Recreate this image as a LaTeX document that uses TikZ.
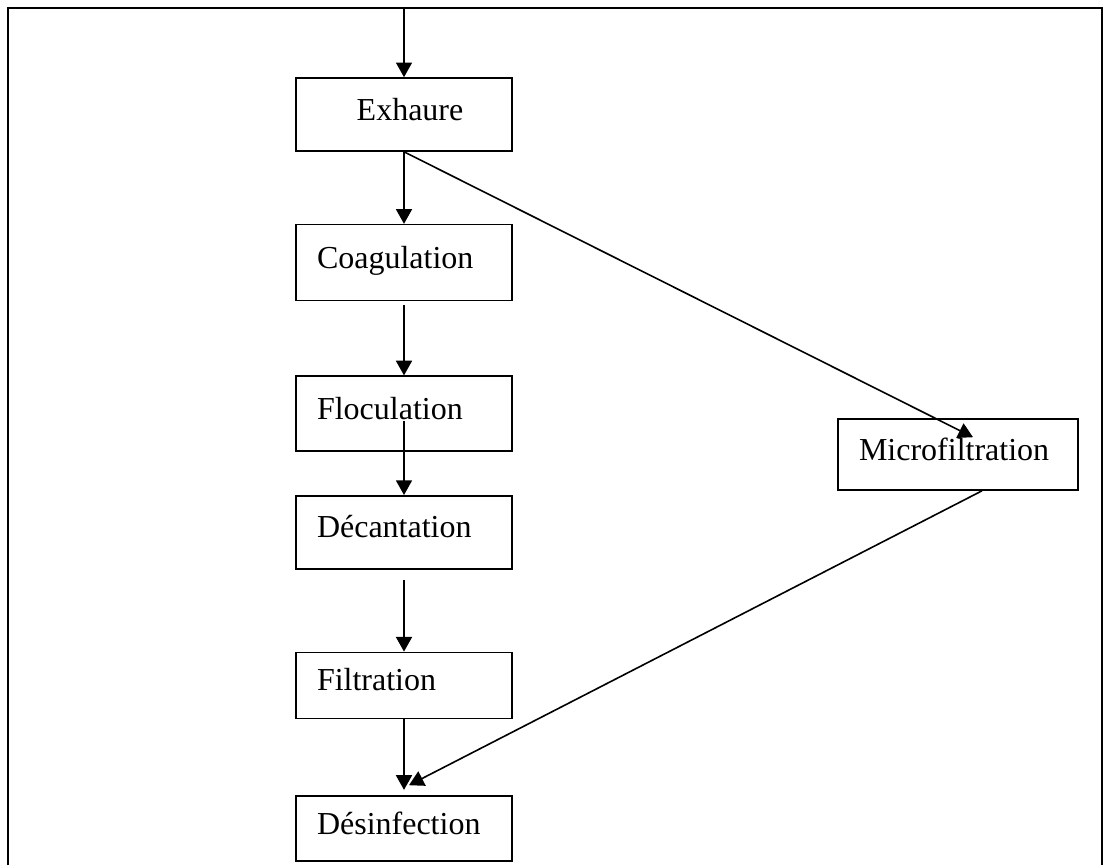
\documentclass[tikz,border=0pt]{standalone}
\usepackage{fontspec}
\setmainfont{Liberation Serif}
\usetikzlibrary{arrows.meta, positioning, calc}

\begin{document}
\begin{tikzpicture}[
	x=0.75pt, y=-0.75pt,
	stepbox/.style={rectangle, draw=black, line width=1.2pt, inner xsep=15.75pt, inner ysep=0pt, text height=16.5pt, text depth=8.25pt, text width=130.5pt, align=left, minimum height=54.75pt, font=\fontsize{24}{28}\selectfont},
	flow/.style={-{Triangle[width=12pt,length=11pt]}, line width=1.2pt}
]
\useasboundingbox (0,0) rectangle (1105,865);

% Frame
\draw[line width=1.2pt] (8,865) -- (8,8) -- (1102,8) -- (1102,865);

% Nodes
\node[stepbox, align=center] (exh) at (404,114.5) {\hspace*{9pt}Exhaure};
\node[stepbox, minimum height=57pt] (coag) [below=54pt of exh] {Coagulation};
\node[stepbox, minimum height=56.25pt] (floc) [below=55.5pt of coag] {Floculation};
\node[stepbox] (dec) [below=32.25pt of floc] {Décantation};
\node[stepbox, minimum height=49.5pt] (filt) [below=61.5pt of dec] {Filtration};
\node[stepbox, minimum height=48.75pt] (desinf) [below=57pt of filt] {Désinfection};
\node[stepbox, text width=148.5pt, minimum height=53.25pt] (micro) at (958,454.5) {Microfiltration};

\coordinate (in) at (404,8);

% Main line
\draw[flow] (in) -- (exh);
\draw[flow] (exh) -- (coag);
\draw[flow, shorten <=3pt] (coag) -- (floc);
\draw[flow, shorten <=-23pt] (floc) -- (dec);
\draw[flow, shorten <=8pt] (dec) -- (filt);
\draw[flow, shorten >=4pt] (filt) -- (desinf);

% Bypass
\draw[flow] (exh.south) -- ($(micro.north)+(15,19)$);
\draw[flow] ($(micro.south)+(24,0)$) -- ($(desinf.north)+(5,-10)$);

\end{tikzpicture}
\end{document}
